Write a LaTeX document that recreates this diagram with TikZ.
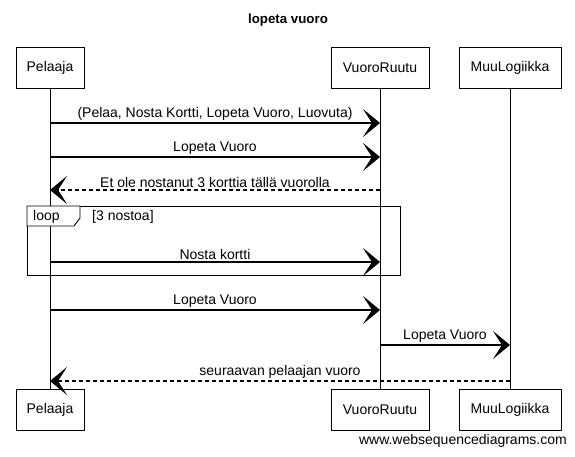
\documentclass[tikz,border=0pt]{standalone}
\usepackage{fontspec}
\setmainfont{Liberation Sans}
\usetikzlibrary{arrows.meta}
\begin{document}
\begin{tikzpicture}[x=1pt,y=-1pt,
  actor/.style={draw, line width=0.9pt, minimum height=41pt, inner sep=0pt, fill=white,
    font=\fontsize{14}{16}\selectfont},
  life/.style={line width=0.7pt},
  msg/.style={line width=1.1pt, -{Stealth[length=17pt,width=28pt,inset=9pt]}},
  ret/.style={msg, dash pattern=on 4pt off 3pt},
  lbl/.style={font=\fontsize{14}{16}\selectfont, inner sep=0pt, above=2pt, midway},
  frame/.style={line width=0.9pt},
]
\useasboundingbox (0,0) rectangle (575,456);

% title
\node[font=\fontsize{13.3}{15}\selectfont\bfseries] (title) at (288,20) {lopeta vuoro};

% actors
\node[actor, minimum width=68pt] (p1) at (50,67.5) {Pelaaja};
\node[actor, minimum width=98pt] (v1) at (380,67.5) {VuoroRuutu};
\node[actor, minimum width=102pt] (m1) at (510,67.5) {MuuLogiikka};
\node[actor, minimum width=68pt] (p2) at (50,409.5) {Pelaaja};
\node[actor, minimum width=98pt] (v2) at (380,409.5) {VuoroRuutu};
\node[actor, minimum width=102pt] (m2) at (510,409.5) {MuuLogiikka};

% lifelines
\draw[life] (p1) -- (p2);
\draw[life] (v1) -- (v2);
\draw[life] (m1) -- (m2);

% loop frame
\draw[frame] (27,206) rectangle (400,275);
\draw[frame, fill=white] (27,206) -- (27,226) -- (74,226) -- (80,218) -- (80,206) -- cycle;
\node[font=\fontsize{14}{16}\selectfont, anchor=west, inner sep=0pt] (looplbl) at (33,216.5) {loop};
\node[font=\fontsize{14}{16}\selectfont, anchor=west, inner sep=0pt] (loopcond) at (92,216.5) {[3 nostoa]};

% message end points
\coordinate (a1) at (50,123);  \coordinate (b1) at (380,123);
\coordinate (a2) at (50,157);  \coordinate (b2) at (380,157);
\coordinate (a3) at (50,190);  \coordinate (b3) at (380,190);
\coordinate (a4) at (50,262);  \coordinate (b4) at (380,262);
\coordinate (a5) at (50,310);  \coordinate (b5) at (380,310);
\coordinate (b6) at (380,345); \coordinate (c6) at (510,345);
\coordinate (a7) at (50,381);  \coordinate (c7) at (510,381);

% messages
\draw[msg] (a1) -- node[lbl] (l1) {(Pelaa, Nosta Kortti, Lopeta Vuoro, Luovuta)} (b1);
\draw[msg] (a2) -- node[lbl] (l2) {Lopeta Vuoro} (b2);
\draw[ret] (b3) -- node[lbl] (l3) {Et ole nostanut 3 korttia tällä vuorolla} (a3);
\draw[msg] (a4) -- node[lbl] (l4) {Nosta kortti} (b4);
\draw[msg] (a5) -- node[lbl] (l5) {Lopeta Vuoro} (b5);
\draw[msg] (b6) -- node[lbl] (l6) {Lopeta Vuoro} (c6);
\draw[ret] (c7) -- node[lbl] (l7) {seuraavan pelaajan vuoro} (a7);

% watermark
\node[font=\fontsize{14}{16}\selectfont, anchor=east, inner sep=0pt] (wm) at (567,441) {www.websequencediagrams.com};
\end{tikzpicture}
\end{document}
